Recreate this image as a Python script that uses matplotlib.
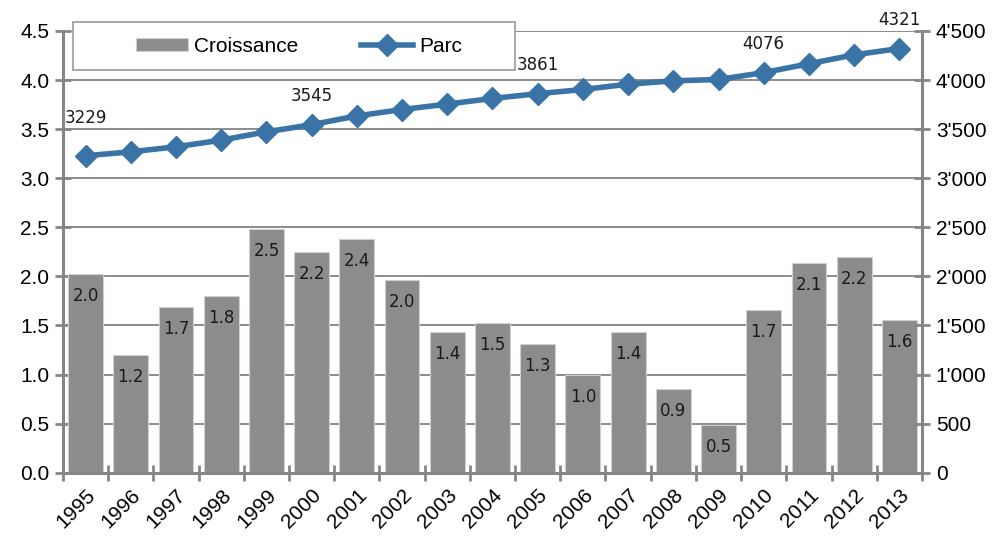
import matplotlib.pyplot as plt
import matplotlib.ticker as mticker
from matplotlib.patches import Rectangle
import numpy as np

# Data
years = [str(y) for y in range(1995, 2014)]
croissance = [2.02, 1.20, 1.69, 1.80, 2.48, 2.245, 2.38, 1.96, 1.43, 1.52,
              1.31, 1.00, 1.43, 0.855, 0.49, 1.66, 2.14, 2.20, 1.56]
parc = [3229, 3269, 3320, 3388, 3473, 3545, 3635, 3700, 3755, 3813,
        3861, 3904, 3958, 3992, 4006, 4076, 4166, 4257, 4321]
labelled_years = ['1995', '2000', '2005', '2010', '2013']

bar_color = '#8c8c8c'
line_color = '#3a73a6'
axis_color = '#868686'
tick_size = 15

fig = plt.figure(figsize=(10.01, 5.38), dpi=100)
ax = fig.add_axes([0.063, 0.1214, 0.858, 0.821])
x = np.arange(len(years))

# Bars
ax.bar(x, croissance, width=0.77, color=bar_color, edgecolor='#d0d0d0',
       linewidth=0.8, zorder=2, label='Croissance')
for xi, v in zip(x, croissance):
    ax.annotate(f'{v:.1f}', (xi, v), xytext=(0, -22), textcoords='offset pixels',
                ha='center', va='center', fontsize=12, family='DejaVu Sans',
                color='#1a1a1a', zorder=3)

ax.set_xlim(-0.5, len(years) - 0.5)
ax.set_ylim(0, 4.5)
ax.set_yticks(np.arange(0, 4.51, 0.5))
ax.yaxis.set_major_formatter(mticker.FormatStrFormatter('%.1f'))
ax.set_xticks(np.arange(-0.5, len(years), 1.0))
ax.set_xticklabels([])
ax.set_xticks(x, minor=True)
ax.set_xticklabels(years, minor=True, rotation=45, ha='right',
                   rotation_mode='anchor')
ax.tick_params(axis='x', which='minor', length=0, pad=9, labelsize=tick_size)
ax.tick_params(axis='x', which='major', direction='inout', length=12,
               width=2, color=axis_color)
ax.tick_params(axis='y', direction='inout', length=12, width=2,
               color=axis_color, labelsize=tick_size, pad=4)
ax.grid(axis='y', color='#8c8c8c', linewidth=1.4, zorder=0)
ax.set_axisbelow(True)
for s in ['top', 'right']:
    ax.spines[s].set_visible(False)
ax.spines['left'].set_color(axis_color)
ax.spines['left'].set_linewidth(2.2)
ax.spines['bottom'].set_color(axis_color)
ax.spines['bottom'].set_linewidth(2.2)

# Line on secondary axis
ax2 = ax.twinx()
ax2.plot(x, parc, color=line_color, linewidth=4, marker='D', markersize=11,
         zorder=4, label='Parc')
ax2.set_ylim(0, 4500)
ax2.set_yticks(np.arange(0, 4501, 500))
ax2.yaxis.set_major_formatter(
    mticker.FuncFormatter(lambda v, p: f'{int(v):,}'.replace(',', "'")))
ax2.tick_params(axis='y', direction='inout', length=12, width=2,
                color=axis_color, labelsize=tick_size, pad=4)
for s in ['top', 'left', 'bottom']:
    ax2.spines[s].set_visible(False)
ax2.spines['right'].set_color(axis_color)
ax2.spines['right'].set_linewidth(2.2)

for yr, v in zip(years, parc):
    if yr in labelled_years:
        i = years.index(yr)
        dy = 38 if i == 0 else 29
        ax2.annotate(str(v), (i, v), xytext=(0, dy), textcoords='offset pixels',
                     ha='center', va='center', fontsize=12,
                     family='DejaVu Sans', color='#1a1a1a')

for lbl in ax.get_yticklabels() + ax2.get_yticklabels() + \
        ax.get_xticklabels(minor=True):
    lbl.set_family('Liberation Sans')

# Legend box (drawn as a rectangle) and centered legend entries
box = Rectangle((0.0116, 0.912), 0.515, 0.108, transform=ax2.transAxes,
                facecolor='white', edgecolor='#9a9a9a', linewidth=1.2,
                zorder=9, clip_on=False)
ax2.add_patch(box)
h1, l1 = ax.get_legend_handles_labels()
h2, l2 = ax2.get_legend_handles_labels()
leg = ax2.legend(h1 + h2, l1 + l2, loc='center', ncol=2,
                 bbox_to_anchor=(0.275, 0.966), frameon=False,
                 prop={'family': 'Liberation Sans', 'size': 15},
                 handlelength=2.5, handleheight=0.6, handletextpad=0.3,
                 borderaxespad=0, columnspacing=3.0)
leg.set_zorder(10)

fig.savefig('out.png', dpi=100)
